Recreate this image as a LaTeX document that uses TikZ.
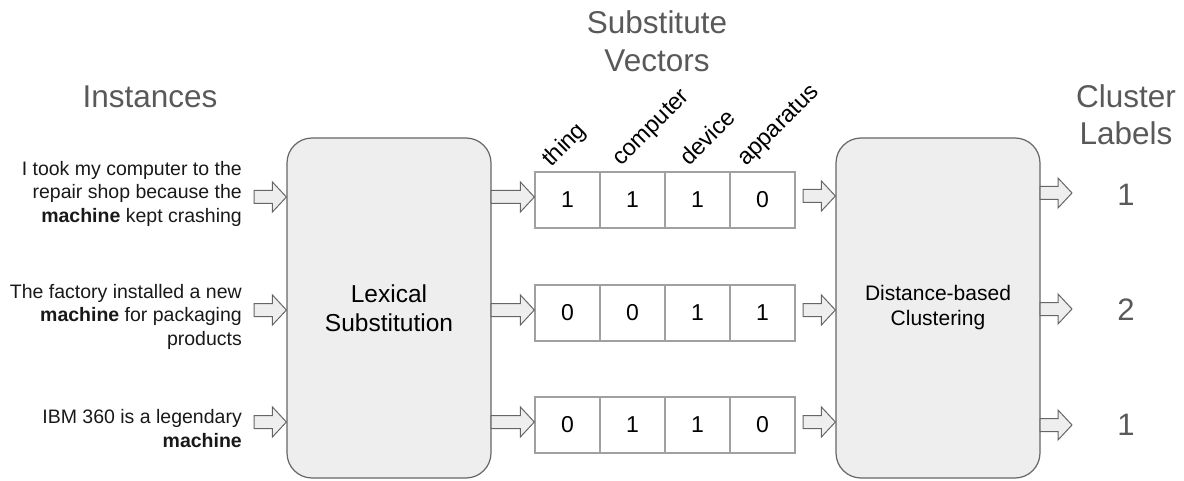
\documentclass[tikz,border=0pt]{standalone}
\usepackage{fontspec}
\setmainfont{Liberation Sans}
\usetikzlibrary{calc}
\definecolor{ttl}{HTML}{595959}
\definecolor{boxfill}{HTML}{EEEEEE}
\definecolor{boxline}{HTML}{666666}
\definecolor{cellline}{HTML}{A0A0A0}
\tikzset{
  bigbox/.style={draw=boxline, fill=boxfill, line width=1.2pt, rounded corners=25pt, minimum width=204pt, minimum height=340pt, inner sep=0pt, align=center},
  cell/.style={draw=cellline, line width=1.3pt, minimum width=65pt, minimum height=56pt, inner sep=0pt, font=\fontsize{23}{26}\selectfont},
  title/.style={text=ttl, align=center, font=\fontsize{31.5}{37}\selectfont, inner sep=0pt},
  inst/.style={anchor=east, align=right, inner sep=0pt, font=\fontsize{19.5}{23.5}\selectfont, text=black!90},
  colname/.style={rotate=45, anchor=base west, inner sep=0pt, font=\fontsize{23.5}{26}\selectfont},
  lbl/.style={text=ttl, inner sep=0pt, font=\fontsize{31}{36}\selectfont},
  barrowst/.style={draw=boxline, fill=boxfill, line width=1pt, line join=miter}
}
\newcommand\blockarrow[2]{\draw[barrowst] let \p1=(#1), \p2=(#2) in
  (\x1,\y1+6.5pt) -- (\x2-14pt,\y1+6.5pt) -- (\x2-14pt,\y1+15pt) -- (\x2,\y1) --
  (\x2-14pt,\y1-15pt) -- (\x2-14pt,\y1-6.5pt) -- (\x1,\y1-6.5pt) -- cycle;}
\begin{document}
\begin{tikzpicture}[x=1pt,y=-1pt]
\useasboundingbox (0,0) rectangle (1184,481);
% titles
\node[title] (tinst) at (150,97) {Instances};
\node[title, font=\fontsize{31.5}{38}\selectfont] (tvec) at (657,41) {Substitute\\Vectors};
\node[title] (tclu) at (1126,115) {Cluster\\Labels};
% instances
\node[inst] (inst1) at (242,193.5) {I took my computer to the\\repair shop because the\\\textbf{machine} kept crashing};
\node[inst] (inst2) at (242,316.5) {The factory installed a new\\\textbf{machine} for packaging\\products};
\node[inst] (inst3) at (242,428.5) {IBM 360 is a legendary\\\textbf{machine}};
% boxes
\node[bigbox, font=\fontsize{24.5}{29}\selectfont] (lex) at (389,308) {Lexical\\Substitution};
\node[bigbox, font=\fontsize{21}{25}\selectfont] (clu) at (938,308) {Distance-based\\Clustering};
% vectors
\foreach \r/\y/\a/\b/\c/\d in {1/200/1/1/1/0, 2/313/0/0/1/1, 3/425/0/1/1/0}{
  \node[cell] (v\r1) at (567.5,\y) {\a};
  \node[cell] (v\r2) at (632.5,\y) {\b};
  \node[cell] (v\r3) at (697.5,\y) {\c};
  \node[cell] (v\r4) at (762.5,\y) {\d};
}
% column names
\node[colname] (cn1) at (551,168) {thing};
\node[colname] (cn2) at (621,167) {computer};
\node[colname] (cn3) at (689,167) {device};
\node[colname] (cn4) at (746,167) {apparatus};
% labels
\node[lbl] (l1) at (1126,195) {1};
\node[lbl] (l2) at (1126,310) {2};
\node[lbl] (l3) at (1126,425) {1};
% arrow rows
\coordinate (a1) at (254,197); \coordinate (a2) at (254,310); \coordinate (a3) at (254,422);
\coordinate (b1) at (491,197); \coordinate (b2) at (491,310); \coordinate (b3) at (491,422);
\coordinate (c1) at (803,196); \coordinate (c2) at (803,310); \coordinate (c3) at (803,422);
\coordinate (d1) at (1040,193); \coordinate (d2) at (1040,309); \coordinate (d3) at (1040,425);
\coordinate (e1) at (1072,193); \coordinate (e2) at (1072,309); \coordinate (e3) at (1072,425);
\foreach \i in {1,2,3}{
  \blockarrow{a\i}{lex.west |- a\i}
  \blockarrow{b\i}{v\i1.west |- b\i}
  \blockarrow{c\i}{clu.west |- c\i}
  \blockarrow{d\i}{e\i}
}
\end{tikzpicture}
\end{document}
